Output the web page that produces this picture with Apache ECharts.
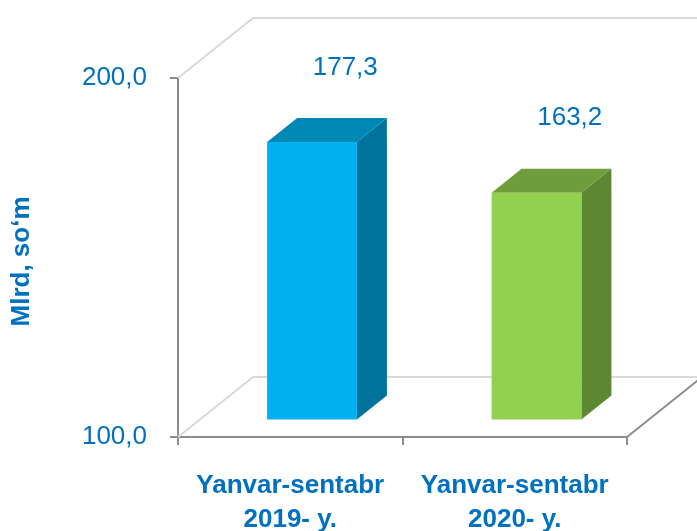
<!DOCTYPE html>
<html>
<head>
<meta charset="utf-8">
<script src="https://cdn.jsdelivr.net/npm/echarts@6/dist/echarts.min.js"></script>
<style>
  html, body { margin: 0; padding: 0; background: #fff; }
  #main { width: 697px; height: 531px; }
</style>
</head>
<body>
<div id="main"></div>
<script>
// categories & values
let categories = ['Yanvar-sentabr\n2019- y.', 'Yanvar-sentabr\n2020- y.'];
let values = [177.3, 163.2];
let frontColors = ['#00B0F0', '#92D050'];
let sideColors = ['#00739C', '#5E8733'];
let topColors = ['#0088B5', '#6F9D3B'];
let yTicks = [100, 200];

// depth of the 3d box (pixels)
const DX = 75;
const DY = -60;
// bar sits between these depth fractions
const F0 = 0.29;
const F1 = 0.69;
const textColor = '#0070C0';
const fontFamily = '"Liberation Sans", Arial, sans-serif';

let fmt = v => v.toFixed(1).replace('.', ',');

let chart = echarts.init(document.getElementById('main'), null, { renderer: 'canvas' });

//画背景的墙和地面
function renderFrame(params, api) {
  let r = params.coordSys;
  let light = { stroke: '#D9D9D9', lineWidth: 2 };
  let dark = { stroke: '#8C8C8C', lineWidth: 2 };
  let line = (x1, y1, x2, y2, style) => ({
    type: 'line',
    shape: { x1, y1, x2, y2 },
    style
  });
  return {
    type: 'group',
    children: [
      line(r.x + DX, r.y + DY, r.x + r.width + DX, r.y + DY, light),
      line(r.x, r.y, r.x + DX, r.y + DY, light),
      line(r.x + DX, r.y + r.height + DY, r.x + r.width + DX, r.y + r.height + DY, light),
      line(r.x, r.y + r.height, r.x + DX, r.y + r.height + DY, light),
      line(r.x + r.width, r.y + r.height, r.x + r.width + DX, r.y + r.height + DY, dark)
    ]
  };
}

//画3d柱子
function renderBar(params, api) {
  let idx = params.dataIndex;
  let v = api.value(1);
  let top = api.coord([api.value(0), v]);
  let base = api.coord([api.value(0), yTicks[0]]);
  let bw = api.size([1, 0])[0] * 0.4;
  let xl = top[0] - bw / 2 + F0 * DX;
  let xr = top[0] + bw / 2 + F0 * DX;
  let yt = top[1] + F0 * DY;
  let yb = base[1] + F0 * DY;
  let dx = (F1 - F0) * DX;
  let dy = (F1 - F0) * DY;
  return {
    type: 'group',
    children: [
      {
        type: 'polygon',
        shape: { points: [[xr, yt], [xr + dx, yt + dy], [xr + dx, yb + dy], [xr, yb]] },
        style: { fill: sideColors[idx] }
      },
      {
        type: 'polygon',
        shape: { points: [[xl, yt], [xl + dx, yt + dy], [xr + dx, yt + dy], [xr, yt]] },
        style: { fill: topColors[idx] }
      },
      {
        type: 'rect',
        shape: { x: xl, y: yt, width: xr - xl, height: yb - yt },
        style: { fill: frontColors[idx] }
      },
      {
        type: 'text',
        style: {
          text: fmt(v),
          x: top[0] + 55,
          y: top[1] - 92,
          fill: textColor,
          font: '26px ' + fontFamily,
          align: 'center',
          verticalAlign: 'middle'
        }
      }
    ]
  };
}

let option = {
  backgroundColor: '#ffffff',
  animation: false,
  grid: {
    left: 178,
    right: 70,
    top: 78,
    bottom: 94,
    outerBoundsMode: 'none'
  },
  xAxis: {
    type: 'category',
    data: categories,
    axisLine: { lineStyle: { color: '#8C8C8C', width: 2 } },
    axisTick: { show: true, length: 8, interval: 0, lineStyle: { color: '#8C8C8C', width: 2 } },
    axisLabel: {
      color: textColor,
      fontSize: 26,
      fontWeight: 'bold',
      lineHeight: 34,
      fontFamily: fontFamily,
      margin: 32,
      interval: 0
    }
  },
  yAxis: {
    type: 'value',
    min: yTicks[0],
    max: yTicks[1],
    interval: yTicks[1] - yTicks[0],
    name: 'Mlrd, so\u2018m',
    nameLocation: 'middle',
    nameRotate: 90,
    nameGap: 143,
    nameTextStyle: {
      color: textColor,
      fontSize: 26,
      fontWeight: 'bold',
      fontFamily: fontFamily,
      padding: [0, 8, 0, 0]
    },
    splitLine: { show: false },
    axisLine: { show: true, lineStyle: { color: '#8C8C8C', width: 2 } },
    axisTick: { show: true, length: 8, lineStyle: { color: '#8C8C8C', width: 2 } },
    axisLabel: {
      color: textColor,
      fontSize: 26,
      fontFamily: fontFamily,
      margin: 31,
      formatter: fmt
    }
  },
  series: [
    {
      type: 'custom',
      renderItem: renderFrame,
      data: [[0, yTicks[0]]],
      z: 1,
      silent: true
    },
    {
      type: 'custom',
      renderItem: renderBar,
      data: values.map((v, i) => [i, v]),
      z: 3
    }
  ]
};

chart.setOption(option);
</script>
</body>
</html>
